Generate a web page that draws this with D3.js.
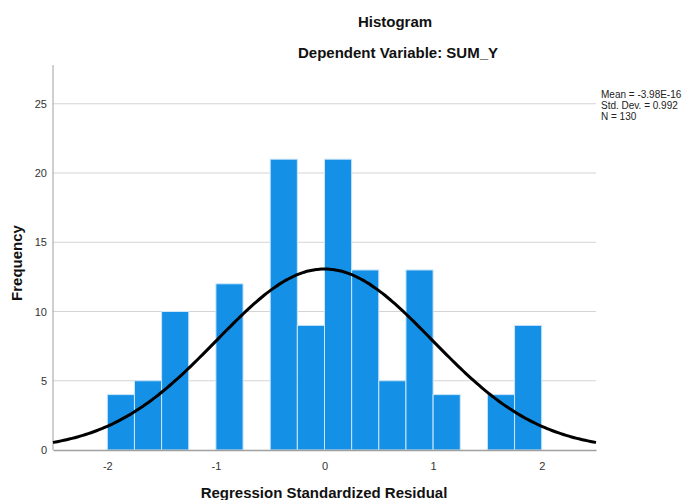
<!DOCTYPE html>
<html><head><meta charset="utf-8">
<script src="https://cdn.jsdelivr.net/npm/d3@7"></script>
<style>body{margin:0;background:#fff}svg{display:block;font-family:"Liberation Sans",Arial,sans-serif}</style>
</head><body>
<svg id="c" width="682" height="500"></svg>
<script>
const binStarts = [-2.0,-1.75,-1.5,-1.25,-1.0,-0.75,-0.5,-0.25,0.0,0.25,0.5,0.75,1.0,1.25,1.5,1.75];
const counts    = [4,5,10,0,12,0,21,9,21,13,5,13,4,0,4,9];
const binWidth = 0.25;
const xTicks = [-2,-1,0,1,2];
const yTicks = [0,5,10,15,20,25];
const statMean = -3.98e-16, statSd = 0.992, statN = 130;
const legendLines = ["Mean = -3.98E-16","Std. Dev. = 0.992","N = 130"];

const svg = d3.select("#c");
const x = d3.scaleLinear().domain([-2.5,2.5]).range([53,596]);
const y = d3.scaleLinear().domain([0,27.8]).range([450,65]);

// gridlines
svg.append("g").selectAll("line").data(yTicks.filter(d=>d>0)).join("line")
  .attr("x1",x(-2.5)).attr("x2",x(2.5)).attr("y1",d=>y(d)).attr("y2",d=>y(d))
  .attr("stroke","#d4d4d4").attr("stroke-width",1);

// bars
const bars = binStarts.map((s,i)=>({s,c:counts[i]})).filter(d=>d.c>0);
svg.append("g").selectAll("rect").data(bars).join("rect")
  .attr("x",d=>x(d.s)).attr("width",d=>x(d.s+binWidth)-x(d.s))
  .attr("y",d=>y(d.c)).attr("height",d=>y(0)-y(d.c))
  .attr("fill","#1490e6").attr("stroke","#cde6fa").attr("stroke-width",1);

// axes
const yAxis = svg.append("g").attr("transform",`translate(${x(-2.5)},0)`)
  .call(d3.axisLeft(y).tickValues(yTicks).tickSize(0).tickPadding(6));
yAxis.select(".domain").attr("stroke","#a0a0a0").attr("d",`M0,${y(0)}V${y(27.8)}`);
yAxis.selectAll("text").attr("font-size","11px").attr("fill","#333").attr("font-family","Liberation Sans, Arial, sans-serif");

const xAxis = svg.append("g").attr("transform",`translate(0,${y(0)})`)
  .call(d3.axisBottom(x).tickValues(xTicks).tickSize(0).tickPadding(12).tickFormat(d=>String(d)));
xAxis.select(".domain").attr("stroke","#a0a0a0").attr("stroke-width",1.5);
xAxis.selectAll("text").attr("font-size","11px").attr("fill","#333").attr("font-family","Liberation Sans, Arial, sans-serif");

// normal curve from stats
const scaleFactor = statN*binWidth;
const pts = d3.range(0,201).map(i=>{
  const v = -2.5 + i*5/200;
  const z = (v-statMean)/statSd;
  return [v, scaleFactor*Math.exp(-0.5*z*z)/(statSd*Math.sqrt(2*Math.PI))];
});
svg.append("path").datum(pts)
  .attr("d",d3.line().x(d=>x(d[0])).y(d=>y(d[1])).curve(d3.curveBasis))
  .attr("fill","none").attr("stroke","#000").attr("stroke-width",3);

// titles
svg.append("text").attr("x",395).attr("y",27).attr("text-anchor","middle")
  .attr("font-size","15px").attr("font-weight","bold").attr("fill","#111").text("Histogram");
svg.append("text").attr("x",398).attr("y",58).attr("text-anchor","middle")
  .attr("font-size","15px").attr("font-weight","bold").attr("fill","#111").text("Dependent Variable: SUM_Y");
svg.append("text").attr("x",324).attr("y",498).attr("text-anchor","middle")
  .attr("font-size","15px").attr("font-weight","bold").attr("fill","#111").text("Regression Standardized Residual");
svg.append("text").attr("transform","translate(22,263) rotate(-90)").attr("text-anchor","middle")
  .attr("font-size","15px").attr("font-weight","bold").attr("fill","#111").text("Frequency");

// legend
svg.append("g").selectAll("text").data(legendLines).join("text")
  .attr("x",601).attr("y",(d,i)=>98+i*11)
  .attr("font-size","10px").attr("fill","#222").text(d=>d);
</script>
</body></html>
